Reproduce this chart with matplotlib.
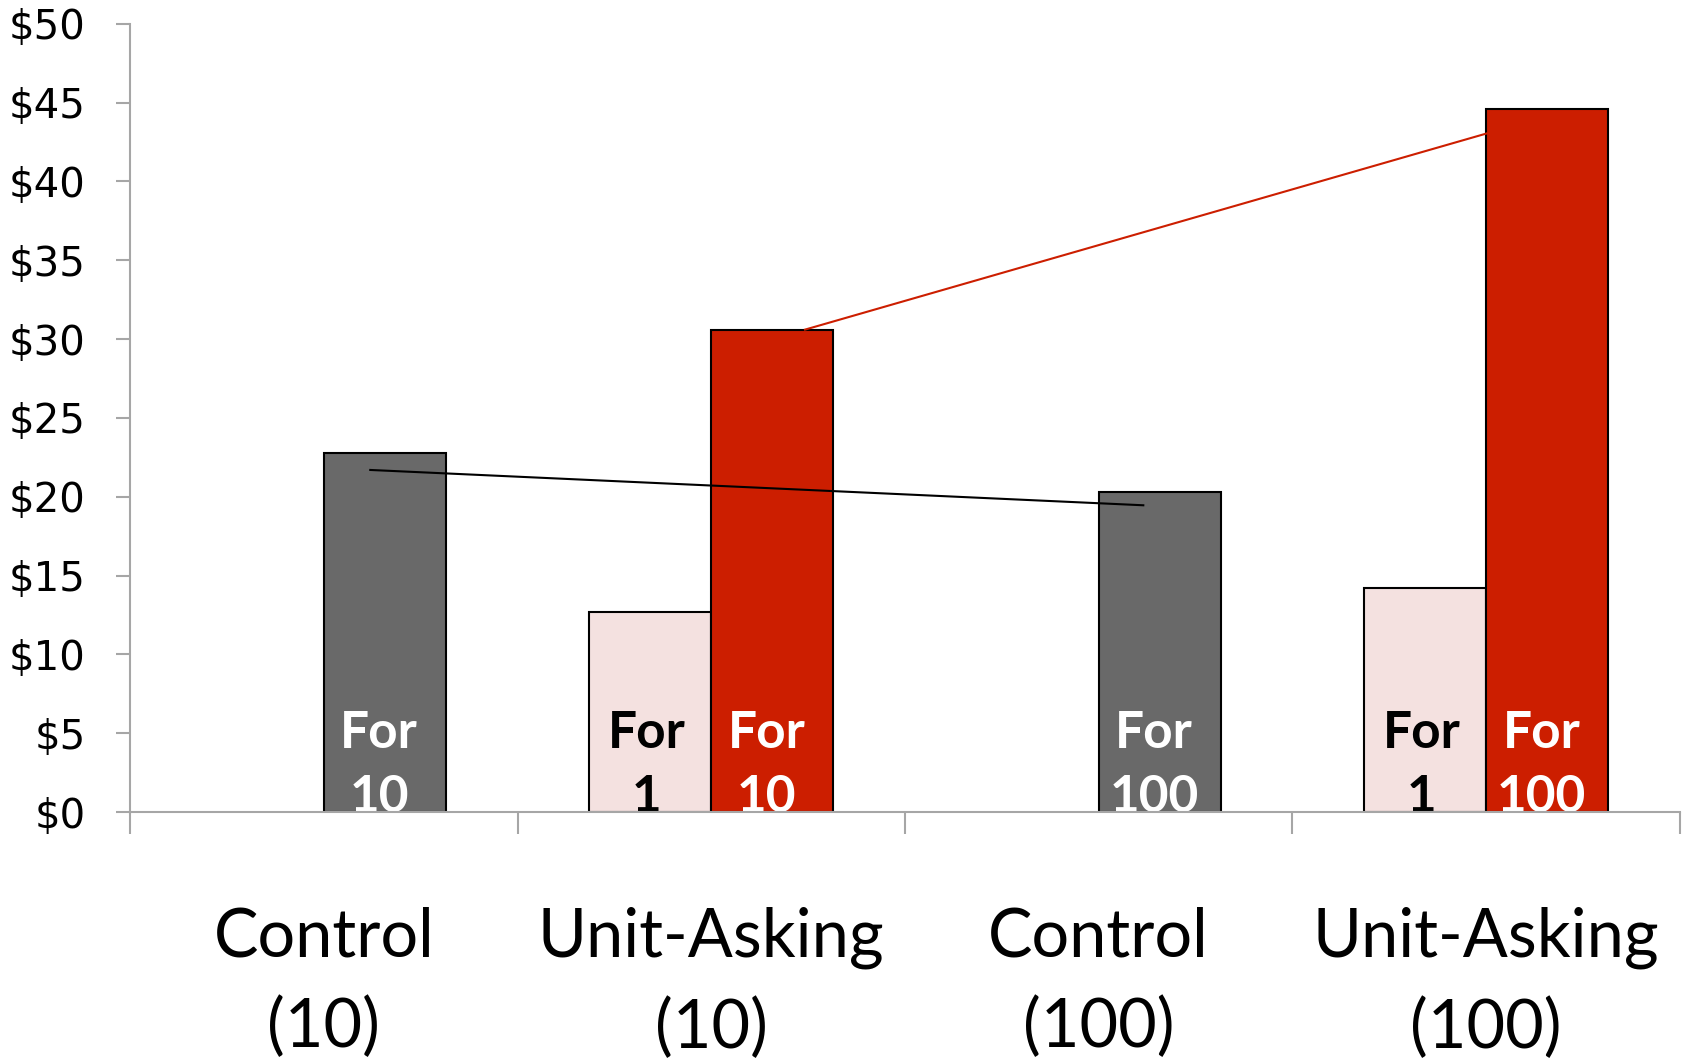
import matplotlib
matplotlib.use("Agg")
import matplotlib.pyplot as plt
import numpy as np

# Data
categories = ["Control\n(10)", "Unit-Asking\n(10)", "Control\n(100)", "Unit-Asking\n(100)"]
price_for_one = [np.nan, 12.7, np.nan, 14.2]        # asked price for a single unit
price_for_bundle = [22.8, 30.6, 20.3, 44.6]         # price for the whole bundle
bundle_colors = ["#696969", "#CC1E00", "#696969", "#CC1E00"]
bundle_labels = ["For\n10", "For\n10", "For\n100", "For\n100"]
one_label = "For\n1"
y_ticks = [0, 5, 10, 15, 20, 25, 30, 35, 40, 45, 50]

# Connector lines between conditions (x in category units, y in dollars)
control_line_x = [0.12, 2.115]
control_line_y = [21.7, 19.46]
asking_line_x = [1.242, 3.004]
asking_line_y = [30.6, 43.06]

bar_w = 0.315
pink = "#F4E1E0"
spine_col = "#A6A6A6"

fig = plt.figure(figsize=(16.82, 10.63), dpi=100)
ax = fig.add_axes([0.0773, 0.236, 0.9215, 0.7417])

x = np.arange(len(categories))

ax.bar(x, price_for_one, width=-bar_w, align="edge", color=pink,
       edgecolor="black", linewidth=1.5, zorder=2)
ax.bar(x, price_for_bundle, width=bar_w, align="edge", color=bundle_colors,
       edgecolor="black", linewidth=1.5, zorder=2)

label_font = ["Lato", "DejaVu Sans"]
label_kw = dict(ha="center", va="center", fontsize=37, fontweight="bold",
                family=label_font, linespacing=1.45, zorder=3, clip_on=False)
for xi, v in zip(x, price_for_one):
    if not np.isnan(v):
        ax.text(xi - bar_w / 2 - 0.01, 2.96, one_label, color="black", **label_kw)
for xi, lab in zip(x, bundle_labels):
    ax.text(xi + bar_w / 2 - 0.015, 2.96, lab, color="white", **label_kw)

ax.plot(control_line_x, control_line_y, color="black", linewidth=1.5, zorder=4)
ax.plot(asking_line_x, asking_line_y, color="#CC1E00", linewidth=1.5, zorder=4)

ax.set_xlim(-0.5, len(categories) - 0.5)
ax.set_ylim(0, 50)

for side in ("top", "right"):
    ax.spines[side].set_visible(False)
for side in ("left", "bottom"):
    ax.spines[side].set_color(spine_col)
    ax.spines[side].set_linewidth(1.5)
    ax.spines[side].set_zorder(5)

ax.set_yticks(y_ticks)
ax.set_yticklabels([f"${t}" for t in y_ticks], fontsize=29, family="DejaVu Sans")
ax.tick_params(axis="y", direction="out", length=10, width=1.5, color=spine_col, pad=22)

ax.set_xticks(x)
ax.set_xticklabels(categories, fontsize=48, family=label_font, linespacing=1.55)
ax.tick_params(axis="x", which="major", length=0, pad=68)
ax.set_xticks(np.arange(-0.5, len(categories)), minor=True)
ax.tick_params(axis="x", which="minor", direction="out", length=16, width=1.5, color=spine_col)

fig.savefig("out.png", dpi=100, facecolor="white")
